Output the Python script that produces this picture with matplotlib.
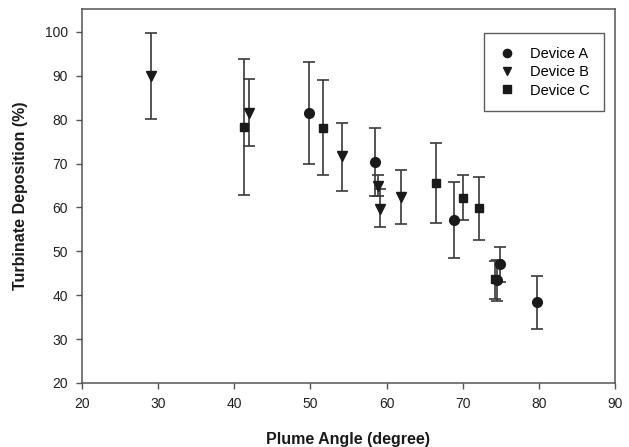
import numpy as np
import matplotlib
matplotlib.use("Agg")
import matplotlib.pyplot as plt

# values
a_angle = [49.8, 58.5, 68.9, 74.5, 74.9, 79.7]
a_dep = [81.5, 70.4, 57.1, 43.4, 47.1, 38.4]
a_hi = [93.1, 78.2, 65.7, 48.1, 51.0, 44.4]
a_lo = [69.8, 62.6, 48.4, 38.6, 43.1, 32.2]

b_angle = [29.0, 41.9, 54.1, 58.9, 59.1, 61.9]
b_dep = [89.9, 81.5, 71.6, 64.9, 59.7, 62.3]
b_hi = [99.8, 89.2, 79.2, 67.4, 64.1, 68.6]
b_lo = [80.2, 73.9, 63.8, 62.5, 55.6, 56.2]

c_angle = [41.3, 51.6, 66.5, 70.0, 72.1, 74.2]
c_dep = [78.3, 78.2, 65.6, 62.2, 59.9, 43.6]
c_hi = [93.8, 89.0, 74.7, 67.4, 67.0, 47.9]
c_lo = [62.8, 67.3, 56.4, 57.1, 52.6, 39.2]

x_ticks = [20, 30, 40, 50, 60, 70, 80, 90]
y_ticks = [20, 30, 40, 50, 60, 70, 80, 90, 100]

plt.rcParams["font.family"] = ["Liberation Sans", "DejaVu Sans"]


def draw(ax, x, y, hi, lo, marker, ms, label):
    y = np.asarray(y)
    yerr = np.vstack([y - np.asarray(lo), np.asarray(hi) - y])
    ax.errorbar(
        x, y, yerr=yerr, fmt=marker, ms=ms, color="#1a1a1a",
        ecolor="#3a3a3a", elinewidth=1.2, capsize=4.3, capthick=1.2,
        label=label,
    )


def main():
    fig = plt.figure(figsize=(6.29, 4.47), dpi=100)
    ax = fig.add_axes([0.1304, 0.1432, 0.8473, 0.8367])

    draw(ax, a_angle, a_dep, a_hi, a_lo, "o", 7, "Device A")
    draw(ax, b_angle, b_dep, b_hi, b_lo, "v", 7.5, "Device B")
    draw(ax, c_angle, c_dep, c_hi, c_lo, "s", 6, "Device C")

    ax.set_xlim(20, 90)
    ax.set_ylim(20, 105.2)
    ax.set_xticks(x_ticks)
    ax.set_yticks(y_ticks)
    ax.tick_params(direction="out", length=4, width=1, color="#555555",
                   labelsize=10, labelcolor="#222222", pad=6)
    for s in ax.spines.values():
        s.set_color("#555555")
        s.set_linewidth(1.1)

    ax.set_xlabel("Plume Angle (degree)", fontsize=11.5, fontweight="bold",
                  color="#1a1a1a", labelpad=15)
    ax.set_ylabel("Turbinate Deposition (%)", fontsize=11.5, fontweight="bold",
                  color="#1a1a1a", labelpad=12)

    handles, labels = ax.get_legend_handles_labels()
    handles = [h[0] for h in handles]
    leg = ax.legend(handles, labels, loc="upper right",
                    bbox_to_anchor=(0.979, 0.936), fontsize=10.5,
                    frameon=True, fancybox=False, borderpad=0.95,
                    handletextpad=1.0, labelspacing=0.3, handlelength=1.2,
                    borderaxespad=0, markerscale=0.85)
    leg.get_frame().set_edgecolor("#333333")
    leg.get_frame().set_linewidth(1.0)

    fig.savefig("out.png", dpi=100)
    plt.close(fig)


if __name__ == "__main__":
    main()
